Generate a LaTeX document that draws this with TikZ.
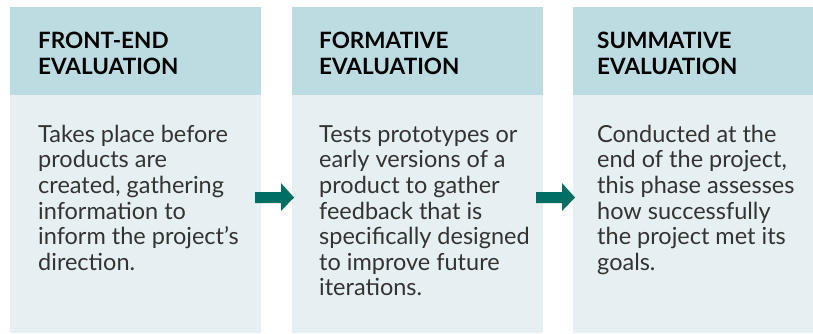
\documentclass[tikz,border=0pt]{standalone}
\usepackage{fontspec}
\setmainfont{Lato}
\definecolor{hdrcol}{HTML}{BCDCE1}
\definecolor{bodycol}{HTML}{E6F0F2}
\definecolor{arrcol}{HTML}{006E62}
\definecolor{txtcol}{HTML}{333333}
\newcommand{\apos}{\char"0027\relax}
\tikzset{
  hdrbox/.style={fill=hdrcol, draw=none, minimum width=251pt, minimum height=88pt, anchor=north west, inner sep=0pt},
  bodybox/.style={fill=bodycol, draw=none, minimum width=251pt, minimum height=238pt, anchor=north west, inner sep=0pt},
  hdrtext/.style={anchor=north west, inner sep=0pt, align=left, text=black, font=\fontsize{22.5}{26}\selectfont\bfseries},
  bodytext/.style={anchor=north west, inner sep=0pt, align=left, text=txtcol, font=\fontsize{23.5}{25.6}\selectfont},
  flowarrow/.style={fill=arrcol, draw=none}
}
\begin{document}
\begin{tikzpicture}[x=1pt,y=-1pt]
\useasboundingbox (0,0) rectangle (813,333);
\clip (0,0) rectangle (813,333);
% column 1
\node[hdrbox] (h1) at (10,7) {};
\node[bodybox] (b1) at (10,95) {};
% column 2
\node[hdrbox] (h2) at (292,7) {};
\node[bodybox] (b2) at (292,95) {};
% column 3
\node[hdrbox] (h3) at (573,7) {};
\node[bodybox] (b3) at (573,95) {};
% headers
\node[hdrtext] (t1) at (38,29.8) {\strut FRONT-END\\EVALUATION};
\node[hdrtext] (t2) at (319,29.8) {\strut FORMATIVE\\EVALUATION};
\node[hdrtext] (t3) at (597,29.8) {\strut SUMMATIVE\\EVALUATION};
% bodies
\node[bodytext] (d1) at (38,124.1) {\strut Takes place before\\products are\\created, gathering\\information to\\inform the project\apos s\\direction.};
\node[bodytext] (d2) at (319,124.1) {\strut Tests prototypes or\\early versions of a\\product to gather\\feedback that is\\specifically designed\\to improve future\\iterations.};
\node[bodytext] (d3) at (597,124.1) {\strut Conducted at the\\end of the project,\\this phase assesses\\how successfully\\the project met its\\goals.};
% arrows
\fill[flowarrow] (255,192) -- (281,192) -- (281,183) -- (294,197.5) -- (281,211) -- (281,203) -- (255,203) -- cycle;
\fill[flowarrow] (536,192) -- (562,192) -- (562,183) -- (575,197.5) -- (562,211) -- (562,203) -- (536,203) -- cycle;
\end{tikzpicture}
\end{document}
